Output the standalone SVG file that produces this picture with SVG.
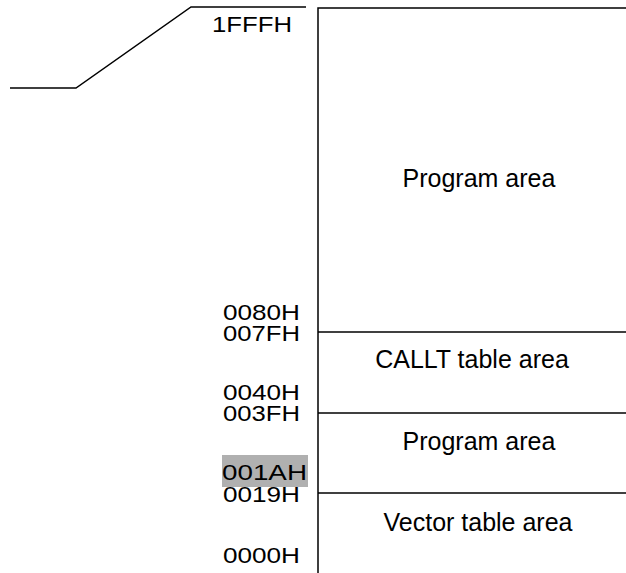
<svg xmlns="http://www.w3.org/2000/svg" width="626" height="573" viewBox="0 0 626 573">
<style>
.ln{fill:none;stroke:#000;stroke-width:1.5}
.addr{font-family:"Liberation Sans",Arial,sans-serif;font-size:22px;fill:#000}
.area{font-family:"Liberation Sans",Arial,sans-serif;font-size:25px;fill:#000;text-anchor:middle}
</style>
<rect width="626" height="573" fill="#fff"/>
<g id="connectors">
<polyline class="ln" points="10,88 76,88 191,7 306,7"/>
<polyline class="ln" points="318,573 318,8 626,8"/>
<line class="ln" x1="318" y1="332" x2="626" y2="332"/>
<line class="ln" x1="318" y1="413" x2="626" y2="413"/>
<line class="ln" x1="318" y1="493" x2="626" y2="493"/>
</g>
<g id="region-program-high"><text class="area" x="479" y="187">Program area</text></g>
<g id="region-callt"><text class="area" x="472" y="368">CALLT table area</text></g>
<g id="region-program-low"><text class="area" x="479" y="450">Program area</text></g>
<g id="region-vector"><text class="area" x="478" y="531">Vector table area</text></g>
<g id="addresses">
<rect x="222" y="455" width="86" height="32" fill="#b0b0b0"/>
<text class="addr" x="212" y="32" textLength="80" lengthAdjust="spacingAndGlyphs">1FFFH</text>
<text class="addr" x="223" y="320" textLength="77" lengthAdjust="spacingAndGlyphs">0080H</text>
<text class="addr" x="223" y="341" textLength="77" lengthAdjust="spacingAndGlyphs">007FH</text>
<text class="addr" x="223" y="400" textLength="77" lengthAdjust="spacingAndGlyphs">0040H</text>
<text class="addr" x="223" y="421" textLength="77" lengthAdjust="spacingAndGlyphs">003FH</text>
<text class="addr" x="222" y="480" textLength="85" lengthAdjust="spacingAndGlyphs">001AH</text>
<text class="addr" x="223" y="502" textLength="77" lengthAdjust="spacingAndGlyphs">0019H</text>
<text class="addr" x="223" y="563" textLength="77" lengthAdjust="spacingAndGlyphs">0000H</text>
</g>
</svg>
